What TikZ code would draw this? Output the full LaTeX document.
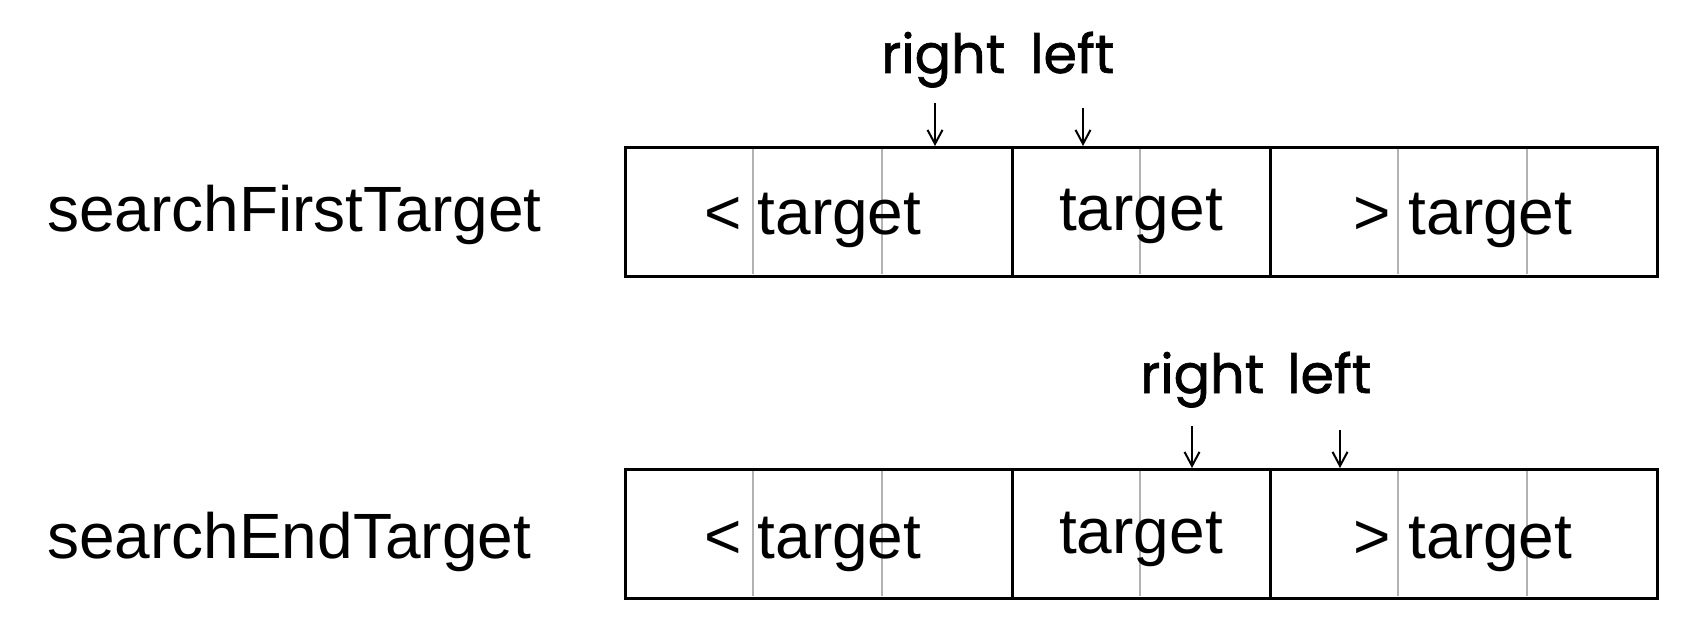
\documentclass[tikz,border=0pt]{standalone}
\usepackage{fontspec}
\setmainfont{Liberation Sans}
\newfontfamily\handfont[FakeBold=1.2]{Poppins}
\usetikzlibrary{arrows.meta}
\begin{document}
\begin{tikzpicture}[x=1pt,y=-1pt,
  grp/.style={draw=black, line width=2.6pt, minimum height=129pt, inner sep=0pt, anchor=north west},
  sepline/.style={draw=black!30, line width=2.3pt},
  txt/.style={font=\fontsize{64}{64}\selectfont, anchor=base, inner sep=0pt},
  lbl/.style={font=\fontsize{64}{64}\selectfont, anchor=base west, inner sep=0pt},
  hand/.style={font=\handfont\fontsize{54}{54}\selectfont, anchor=base west, inner sep=0pt},
  ptr/.style={line width=2pt, -{Straight Barb[length=14pt,width=15pt]}}]
\useasboundingbox (0,0) rectangle (1702,620);

% row labels
\node[lbl] (l1) at (47,232) {searchFirstTarget};
\node[lbl] (l2) at (47,558) {searchEndTarget};

% gray cell separators
\foreach \yy in {146,468}{
  \foreach \xx in {753,882,1140,1398,1527}{
    \draw[sepline] (\xx,\yy+1.3) -- (\xx,\yy+127.7);
  }
}

% row 1 groups
\node[grp, minimum width=387pt] (a1) at (624,146) {};
\node[grp, minimum width=258pt] (b1) at (1011,146) {};
\node[grp, minimum width=387pt] (c1) at (1269,146) {};
% row 2 groups
\node[grp, minimum width=387pt] (a2) at (624,468) {};
\node[grp, minimum width=258pt] (b2) at (1011,468) {};
\node[grp, minimum width=387pt] (c2) at (1269,468) {};

% cell texts
\node[txt] (ta1) at (813,235) {<\kern-2pt{} target};
\node[txt] (tb1) at (1141,231) {target};
\node[txt] (tc1) at (1463,235) {> target};
\node[txt] (ta2) at (813,558) {<\kern-2pt{} target};
\node[txt] (tb2) at (1141,553) {target};
\node[txt] (tc2) at (1463,558) {> target};

% pointer labels row 1
\node[hand] (r1) at (881,73) {right};
\node[hand] (f1) at (1030,73) {left};
\coordinate (r1s) at (935,103);
\coordinate (f1s) at (1083,108);
\draw[ptr] (r1s) -- (r1s |- a1.north);
\draw[ptr] (f1s) -- (f1s |- b1.north);

% pointer labels row 2
\node[hand] (r2) at (1140,393) {right};
\node[hand] (f2) at (1287,393) {left};
\coordinate (r2s) at (1192,426);
\coordinate (f2s) at (1340,430);
\draw[ptr] (r2s) -- (r2s |- b2.north);
\draw[ptr] (f2s) -- (f2s |- c2.north);
\end{tikzpicture}
\end{document}
